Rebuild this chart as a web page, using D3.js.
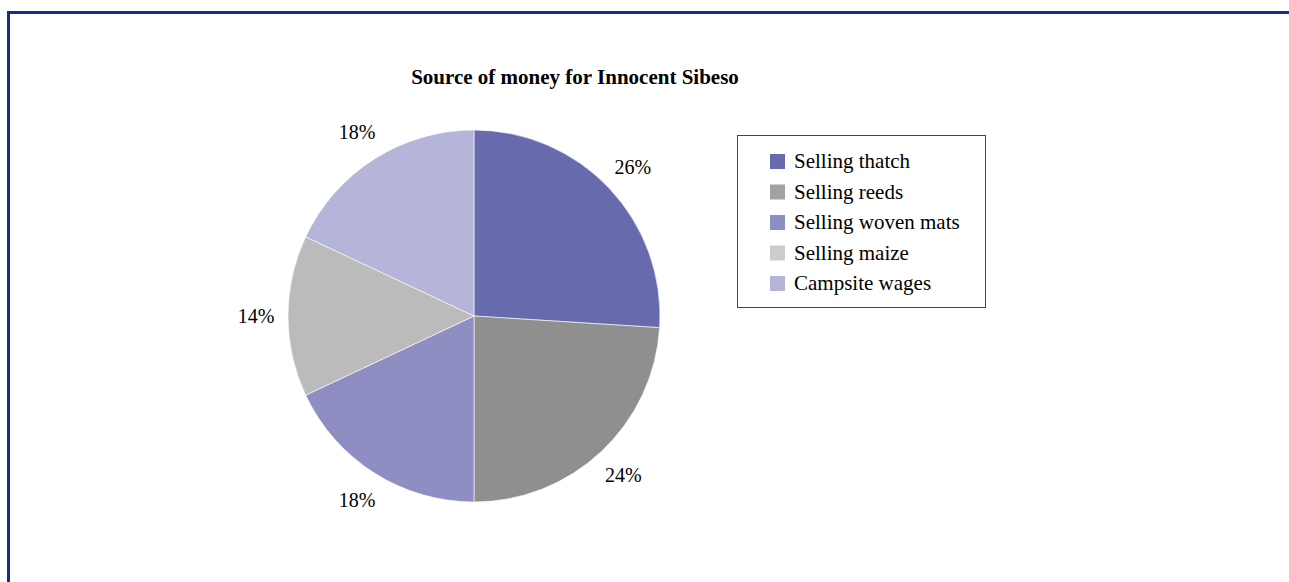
<!doctype html>
<html>
  <head>
    <script src="https://cdnjs.cloudflare.com/ajax/libs/d3/7.8.5/d3.min.js"></script>
    <style>
      body { margin: 0; background: #fff; }
      text { font-family: "Liberation Serif", "DejaVu Serif", serif; fill: #000; }
    </style>
  </head>
  <body>
    <svg width="1289" height="582"></svg>
    <script>
      // data
      var categories = ["Selling thatch", "Selling reeds", "Selling woven mats", "Selling maize", "Campsite wages"];
      var shares = [26, 24, 18, 14, 18];
      var sliceColors = ["#676bae", "#8f8f8f", "#8e8ec2", "#bbbbbb", "#b5b5d9"];
      var legendColors = ["#676bae", "#a2a2a2", "#8e8ec2", "#cccccc", "#b5b5d9"];
      var chartTitle = "Source of money for Innocent Sibeso";

      var svg = d3.select("svg");

      // outer frame (top + left rule)
      svg.append("path")
        .attr("d", "M8.5,582 L8.5,12.5 L1289,12.5")
        .attr("fill", "none")
        .attr("stroke", "#1a2d8f")
        .attr("stroke-width", 3);

      svg.append("text")
        .attr("x", 575)
        .attr("y", 84)
        .attr("text-anchor", "middle")
        .attr("font-size", 21)
        .attr("font-weight", "bold")
        .text(chartTitle);

      var data = categories.map((c, i) => ({ name: c, value: shares[i] }));
      var color = d3.scaleOrdinal().domain(categories).range(sliceColors);
      var legendColor = d3.scaleOrdinal().domain(categories).range(legendColors);

      var pie = d3.pie().sort(null).value(d => d.value);
      var arcs = pie(data);
      var radius = 186;
      var arc = d3.arc().innerRadius(0).outerRadius(radius);
      var labelArc = d3.arc().innerRadius(218).outerRadius(218);

      var g = svg.append("g").attr("transform", "translate(474,316)");

      g.selectAll("path.slice")
        .data(arcs)
        .enter()
        .append("path")
          .attr("class", "slice")
          .attr("d", arc)
          .attr("fill", d => color(d.data.name))
          .attr("stroke", "#fff")
          .attr("stroke-width", 0.6);

      g.selectAll("text.pct")
        .data(arcs)
        .enter()
        .append("text")
          .attr("class", "pct")
          .attr("transform", d => `translate(${labelArc.centroid(d)})`)
          .attr("text-anchor", "middle")
          .attr("dy", "0.35em")
          .attr("font-size", 20)
          .text(d => d.data.value + "%");

      // legend
      var legend = svg.append("g").attr("transform", "translate(737,135)");
      legend.append("rect")
        .attr("x", 0.5).attr("y", 0.5)
        .attr("width", 248).attr("height", 172)
        .attr("fill", "#fff")
        .attr("stroke", "#444")
        .attr("stroke-width", 1);

      var rowY = d3.scalePoint().domain(categories).range([26, 148]);

      var item = legend.selectAll("g.item")
        .data(categories)
        .enter()
        .append("g")
          .attr("class", "item")
          .attr("transform", d => `translate(0,${rowY(d)})`);
      item.append("rect")
        .attr("x", 33).attr("y", -7)
        .attr("width", 15).attr("height", 15)
        .attr("fill", d => legendColor(d));
      item.append("text")
        .attr("x", 57)
        .attr("dy", "0.35em")
        .attr("font-size", 21)
        .text(d => d);
    </script>
  </body>
</html>
